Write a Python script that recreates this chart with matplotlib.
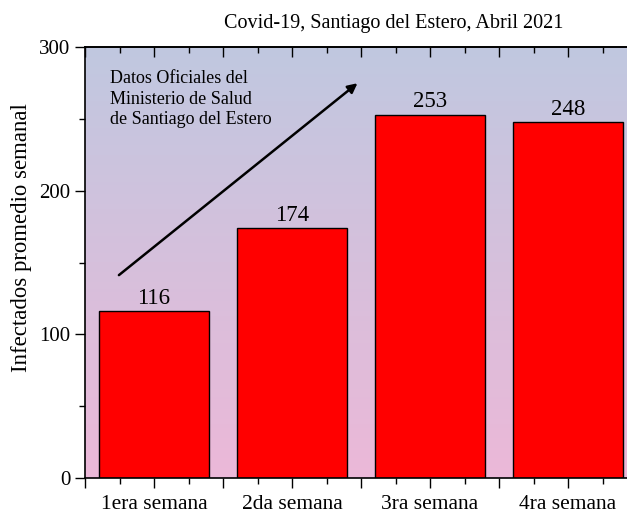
import numpy as np
import matplotlib
matplotlib.use("Agg")
import matplotlib.pyplot as plt
from matplotlib.ticker import MultipleLocator
from matplotlib.colors import LinearSegmentedColormap

categories = ["1era semana", "2da semana", "3ra semana", "4ra semana"]
values = [116, 174, 253, 248]
title = "Covid-19, Santiago del Estero, Abril 2021"
ylabel = "Infectados promedio semanal"
note = "Datos Oficiales del\nMinisterio de Salud\nde Santiago del Estero"

plt.rcParams['font.family'] = ['Liberation Serif', 'DejaVu Serif']

W, H = 627, 514
fig = plt.figure(figsize=(W/100, H/100), dpi=100)
left, right, top, bottom = 85, 637, 47, 478
ax = fig.add_axes([left/W, 1-bottom/H, (right-left)/W, (bottom-top)/H])

x = np.arange(1, len(values)+1)
ax.set_xlim(0.5, 4.5)
ax.set_ylim(0, 300)

# gradient background (top blue-gray -> bottom pink)
cmap = LinearSegmentedColormap.from_list("bg", ["#c0c8e0", "#ecb8d8"])
grad = np.linspace(0, 1, 256).reshape(-1, 1)
ax.imshow(grad, aspect='auto', cmap=cmap, extent=[0, 1, 0, 1], origin='upper',
          transform=ax.transAxes, zorder=0)

ax.bar(x, values, width=0.8, color="#ff0000", edgecolor="black",
       linewidth=1.0, zorder=2)
for xi, v in zip(x, values):
    ax.text(xi, v + 1.5, str(v), ha='center', va='bottom', fontsize=16.5, zorder=3)

ax.set_title(title, fontsize=14.5, pad=14, x=0.56)
ax.set_ylabel(ylabel, fontsize=16.4)
ax.yaxis.set_label_coords(-0.096, 0.557)

ax.set_xticks(np.arange(0.5, 4.51, 0.5))
ax.set_xticklabels(["" if abs(t - round(t)) > 1e-6 or t < 1 else categories[int(round(t))-1]
                    for t in np.arange(0.5, 4.51, 0.5)])
ax.xaxis.set_minor_locator(MultipleLocator(0.25))
ax.yaxis.set_major_locator(MultipleLocator(100))
ax.yaxis.set_minor_locator(MultipleLocator(50))
ax.tick_params(axis='x', which='both', bottom=True, top=False, direction='out')
ax.tick_params(axis='x', which='major', length=7, width=1, labelsize=15.5, pad=5)
ax.tick_params(axis='x', which='minor', length=4, width=1)
ax.tick_params(axis='y', which='major', length=7, width=1, labelsize=15, direction='out')
ax.tick_params(axis='y', which='minor', length=4, width=1, direction='out')

sec = ax.secondary_xaxis('top')
sec.set_xticks(np.arange(0.5, 4.51, 0.5))
sec.xaxis.set_minor_locator(MultipleLocator(0.25))
sec.tick_params(axis='x', which='both', direction='in', labeltop=False, width=1)
sec.tick_params(axis='x', which='major', length=7)
sec.tick_params(axis='x', which='minor', length=4)
sec.spines['top'].set_linewidth(1.2)

for sp in ax.spines.values():
    sp.set_linewidth(1.2)

ax.annotate("", xy=(2.49, 276), xytext=(0.73, 140),
            arrowprops=dict(arrowstyle="-|>", color="black", lw=1.8,
                            mutation_scale=14), zorder=4)
ax.text(0.68, 284, note, ha='left', va='top', fontsize=13,
        linespacing=1.28, zorder=4)

fig.savefig("out.png", dpi=100)
